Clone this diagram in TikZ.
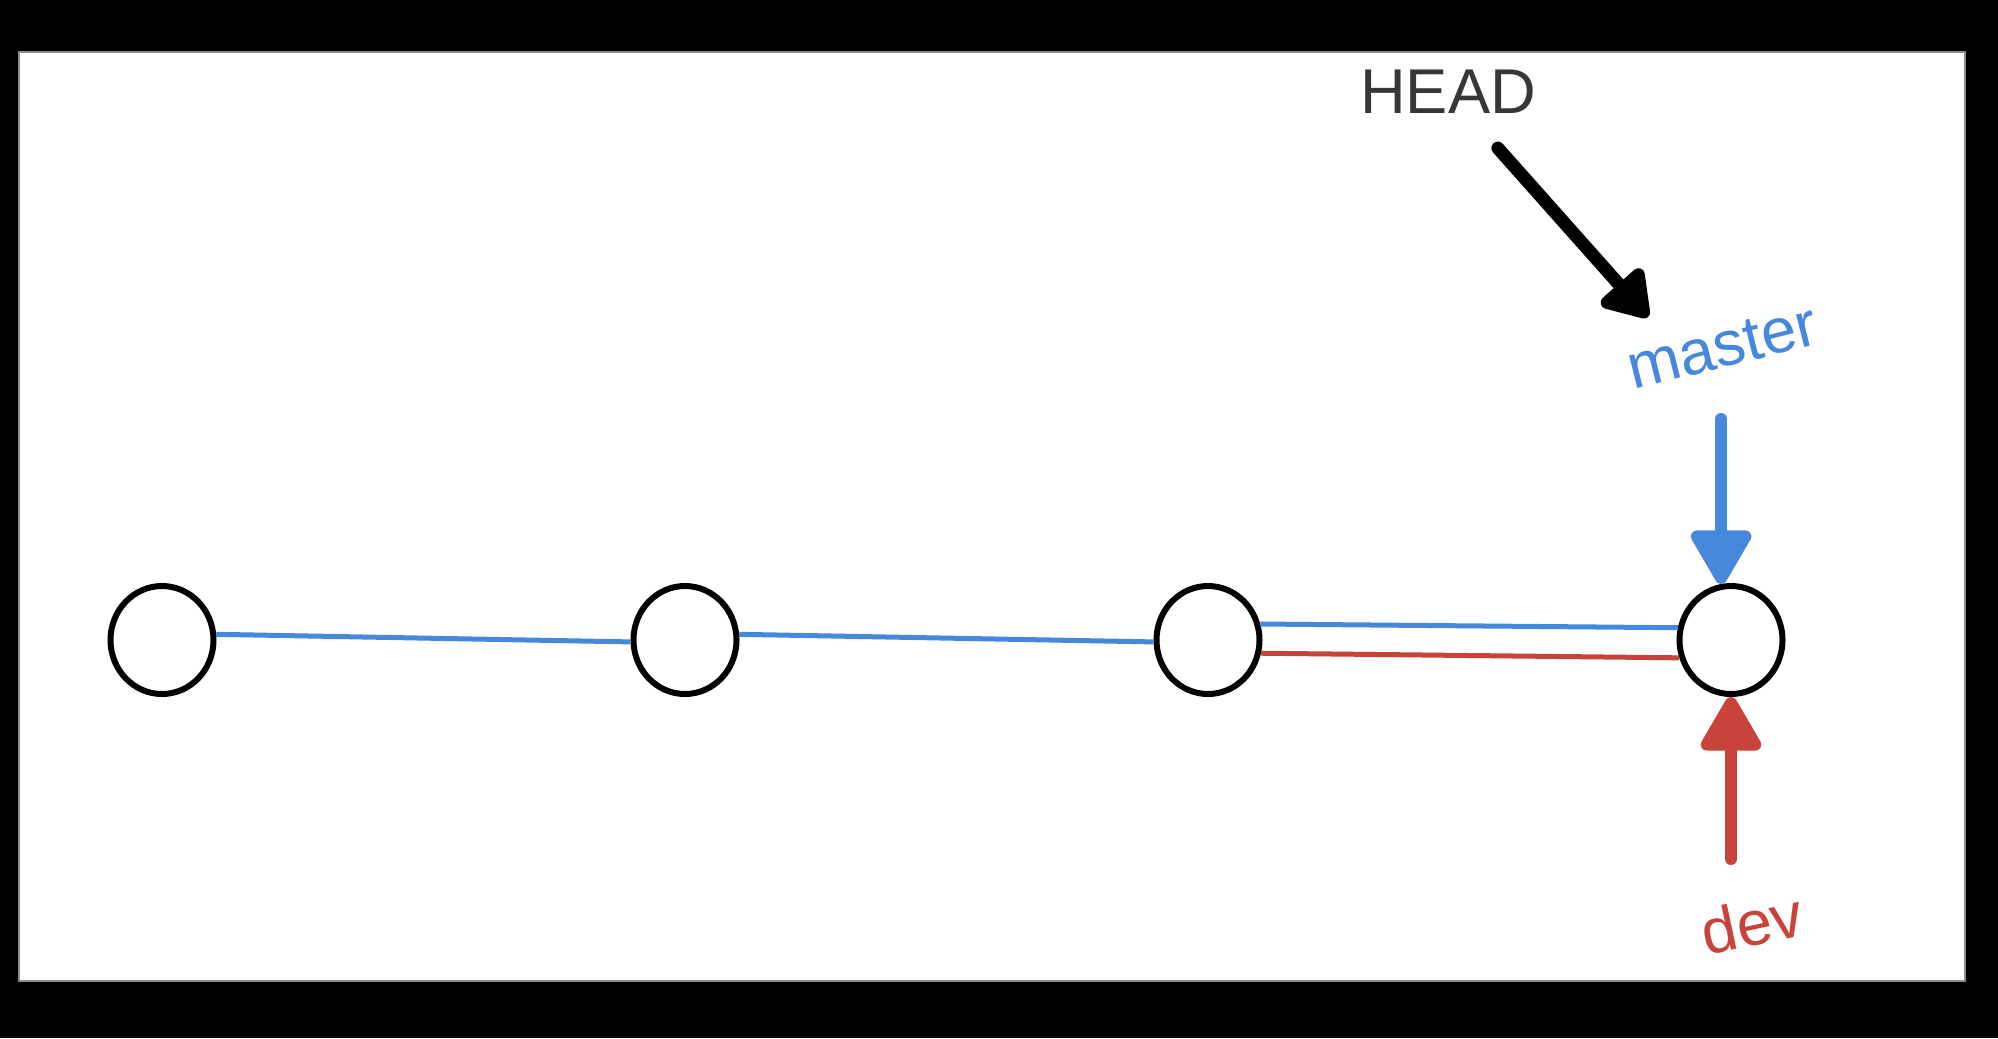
\documentclass[tikz,border=0pt]{standalone}
\usepackage{fontspec}
\setmainfont{Liberation Sans}
\usepackage{tikz}
\usetikzlibrary{calc}
\usetikzlibrary{arrows.meta}
\usetikzlibrary{shapes.geometric}
\definecolor{branchblue}{RGB}{70,136,220}
\definecolor{branchred}{RGB}{200,68,58}
\definecolor{headgray}{RGB}{55,55,55}

\begin{document}
\begin{tikzpicture}
\tikzset{commit/.style={draw,ellipse,line width=0.06cm,minimum width=1.03cm,minimum height=1.08cm,inner sep=0pt}}
\tikzset{blueline/.style={draw=branchblue,line width=0.05cm}}
\tikzset{redline/.style={draw=branchred,line width=0.05cm}}
\tikzset{pointer/.style={line width=0.12cm,line cap=round,{Triangle[length=0.6cm,width=0.66cm,round]}-}}
\tikzset{tag/.style={font=\fontsize{18}{18}\selectfont,inner sep=0pt}}
\useasboundingbox (0,0) rectangle (19.98,10.38);
\fill[black] (0,0) rectangle (19.98,10.38);
\fill[white,draw=black!45,line width=0.02cm] (0.19,0.57) rectangle (19.65,9.86);

\node (1) at (1.62,3.98) [commit] {};
\node (2) at (6.85,3.98) [commit] {};
\node (3) at (12.08,3.98) [commit] {};
\node (4) at (17.31,3.98) [commit] {};
\node (head) at (14.48,9.46) [tag,text=headgray] {HEAD};
\node (master) at (17.22,6.91) [tag,rotate=14,text=branchblue] {master};
\node (dev) at (17.52,1.15) [tag,rotate=12,text=branchred] {dev};
\coordinate (headtip) at (16.48,7.21);

\path
(1.6) edge[blueline] (2.182)
(2.6) edge[blueline] (3.182)
(3.17) edge[blueline] (4.167)
(3.-14) edge[redline] (4.199);

\draw[pointer,black,line width=0.13cm,arrows={Triangle[length=0.5cm,width=0.62cm,round]}-,shorten >=0.45cm] (headtip) -- (head);
\draw[pointer,branchblue] (4.100) -- ++(0,1.65);
\draw[pointer,branchred] (4.south) -- ++(0,-1.62);
\end{tikzpicture}
\end{document}
